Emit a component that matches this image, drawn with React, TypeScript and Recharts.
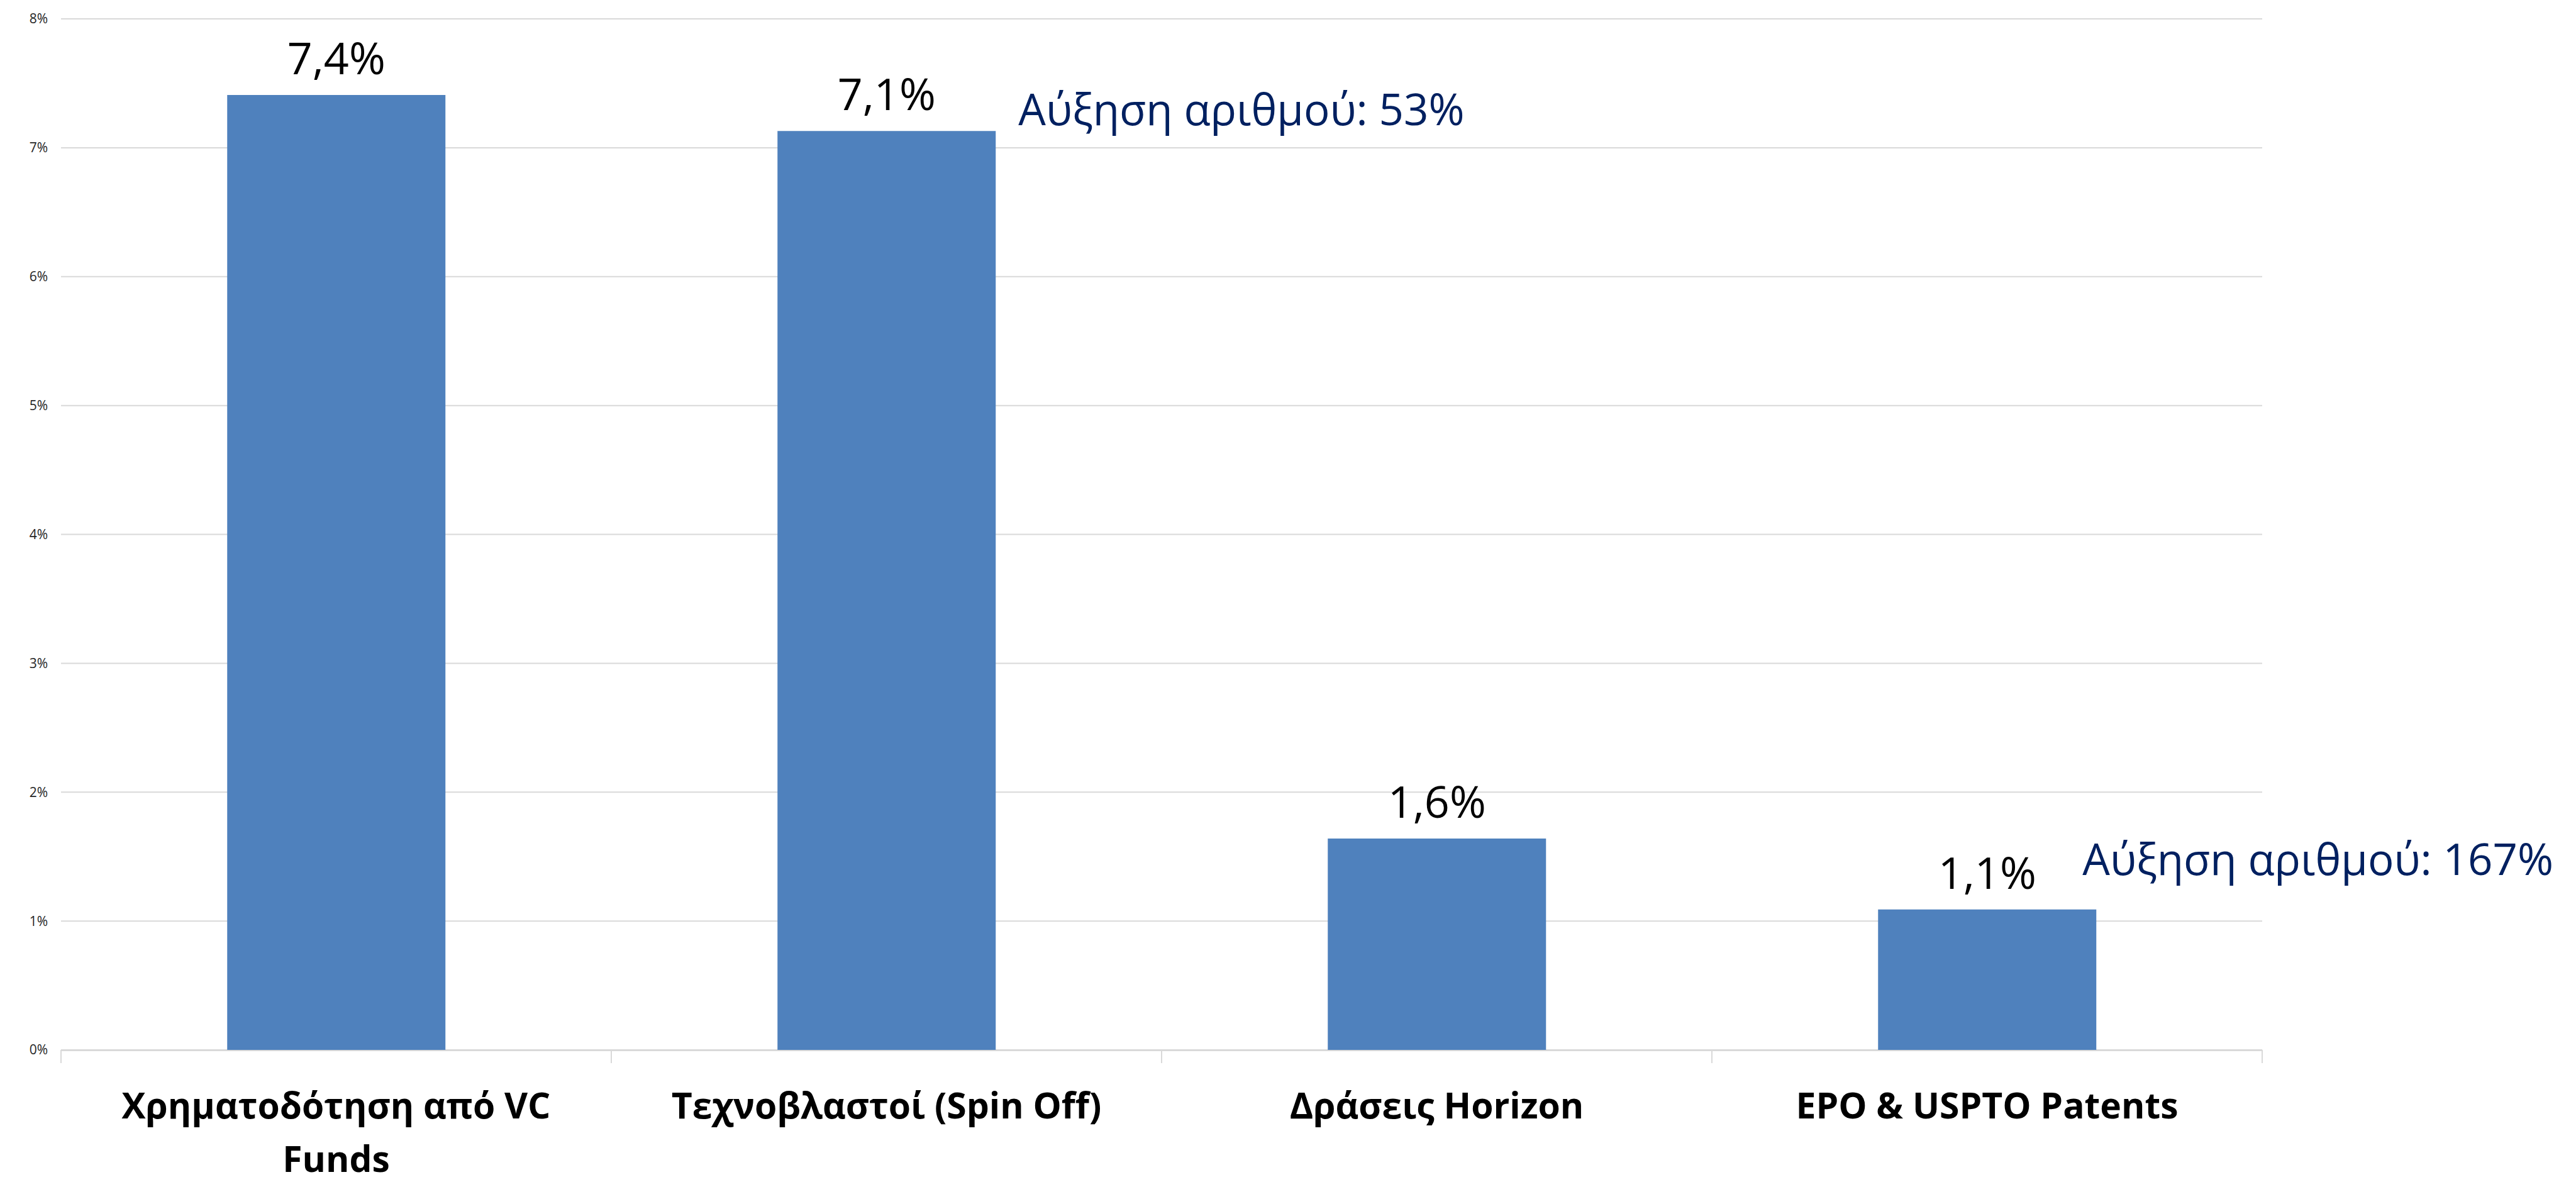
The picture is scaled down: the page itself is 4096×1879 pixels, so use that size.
import React from 'react';
import { BarChart, Bar, XAxis, YAxis, CartesianGrid, LabelList } from 'recharts';

const categories = [
  'Χρηματοδότηση από VC Funds',
  'Τεχνοβλαστοί (Spin Off)',
  'Δράσεις Horizon',
  'EPO & USPTO Patents',
];
const shares = [7.41, 7.13, 1.64, 1.09];
const notes = ['', 'Αύξηση αριθμού: 53%', '', 'Αύξηση αριθμού: 167%'];
const yTicks = [0, 1, 2, 3, 4, 5, 6, 7, 8];
const bandEdges = [0, 1, 2, 3, 4];

const data = categories.map((name, i) => ({ name, share: shares[i], note: notes[i], pos: i + 0.5 }));

const FONT = '"Open Sans", Calibri, sans-serif';
const GRID = '#d9d9d9';
const CAT_FONT_SIZE = 57;
const CAT_MAX_WIDTH = 820;
// hand-placed text boxes in the original, offsets from the bar's top-right corner
const noteOffsets: Record<number, { dx: number; dy: number }> = {
  1: { dx: 36, dy: -9 },
  3: { dx: -22, dy: -55 },
};

const pct = (v: number) => `${v.toFixed(1).replace('.', ',')}%`;

let measureCtx: CanvasRenderingContext2D | null = null;
const wrapWords = (label: string, font: string, maxWidth: number) => {
  if (!measureCtx) measureCtx = document.createElement('canvas').getContext('2d');
  const ctx = measureCtx!;
  ctx.font = font;
  const lines: string[] = [];
  let cur = '';
  label.split(' ').forEach((w) => {
    const test = cur ? `${cur} ${w}` : w;
    if (cur && ctx.measureText(test).width > maxWidth) {
      lines.push(cur);
      cur = w;
    } else {
      cur = test;
    }
  });
  if (cur) lines.push(cur);
  return lines;
};

const ValueLabel = (props: any) => {
  const { x, y, width, value } = props;
  return (
    <text x={x + width / 2} y={y - 33} textAnchor="middle" fontFamily={FONT} fontSize={70} fill="#000">
      {pct(value)}
    </text>
  );
};

const NoteLabel = (props: any) => {
  const { x, y, width, value, index } = props;
  if (!value) return null;
  const off = noteOffsets[index] ?? { dx: 30, dy: -10 };
  return (
    <text x={x + width + off.dx} y={y + off.dy} fontFamily={FONT} fontSize={69} fill="#002060">
      {value}
    </text>
  );
};

const CategoryTick = (props: any) => {
  const { x, y, payload } = props;
  const lines = wrapWords(payload.value, `700 ${CAT_FONT_SIZE}px "Open Sans"`, CAT_MAX_WIDTH);
  return (
    <text
      x={x}
      y={y + 108}
      textAnchor="middle"
      fontFamily={FONT}
      fontSize={CAT_FONT_SIZE}
      fontWeight={700}
      fill="#000"
    >
      {lines.map((l, i) => (
        <tspan key={i} x={x} dy={i === 0 ? 0 : 85}>
          {l}
        </tspan>
      ))}
    </text>
  );
};

export default function App() {
  return (
    <div style={{ position: 'absolute', left: 0, top: 0, width: 4096, height: 1879, background: '#fff' }}>
      <BarChart
        width={4096}
        height={1879}
        data={data}
        margin={{ top: 30, right: 499, bottom: 0, left: 0 }}
        barCategoryGap="30.2%"
      >
        <CartesianGrid xAxisId={1} vertical={false} stroke={GRID} strokeWidth={2} />
        {/* small separator ticks at the category boundaries */}
        <XAxis
          xAxisId={0}
          type="number"
          dataKey="pos"
          domain={[0, 4]}
          ticks={bandEdges}
          height={1}
          axisLine={false}
          tickLine={{ stroke: GRID, strokeWidth: 2 }}
          tickSize={21}
          tick={() => <g />}
        />
        <XAxis
          xAxisId={1}
          dataKey="name"
          height={209}
          axisLine={{ stroke: GRID, strokeWidth: 2 }}
          tickLine={false}
          tickSize={0}
          tickMargin={0}
          interval={0}
          tick={<CategoryTick />}
        />
        <YAxis
          width={97}
          domain={[0, 8]}
          ticks={yTicks}
          axisLine={false}
          tickLine={false}
          tickSize={0}
          tickMargin={21}
          tickFormatter={(v: number) => `${v}%`}
          tick={{ fontFamily: FONT, fontSize: 21, fill: '#262626' }}
        />
        <Bar xAxisId={1} dataKey="share" fill="#4f81bd" isAnimationActive={false}>
          <LabelList dataKey="share" content={<ValueLabel />} />
          <LabelList dataKey="note" content={<NoteLabel />} />
        </Bar>
      </BarChart>
    </div>
  );
}
